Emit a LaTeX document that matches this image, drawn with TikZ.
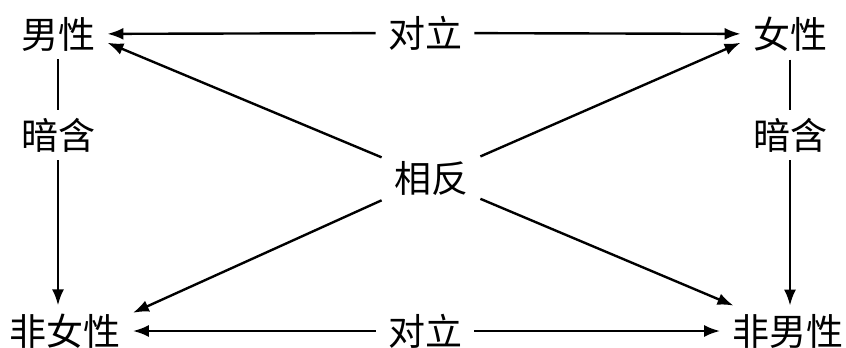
\documentclass[tikz,border=0pt]{standalone}
\usepackage{fontspec}
\newfontfamily\cjk{Noto Sans CJK SC}
\usepackage{tikz}
\usetikzlibrary{arrows.meta}
\tikzset{
  lbl/.style={inner xsep=6pt, inner ysep=4pt,
              font=\cjk\fontsize{18.5}{20}\selectfont},
  arr/.style={-{Latex[length=8pt,width=6pt]}, line width=1.2pt},
  lnk/.style={line width=1.2pt},
}

\begin{document}
\begin{tikzpicture}[x=0.5pt, y=-0.5pt]
  \useasboundingbox (0,0) rectangle (846,348);
  % corners
  \node[lbl] (nan)  at (58,34)   {男性};
  \node[lbl] (nv)   at (790,34)  {女性};
  \node[lbl] (fnv)  at (65,331)  {非女性};
  \node[lbl] (fnan) at (788,331) {非男性};
  % relations
  \node[lbl] (dlt)  at (425,33)  {对立};
  \node[lbl] (dlb)  at (425,331) {对立};
  \node[lbl] (anl)  at (58,135)  {暗含};
  \node[lbl] (anr)  at (790,135) {暗含};
  \node[lbl] (xf)   at (431,178) {相反};
  % connectors
  \draw[arr] (dlt) -- (nan);
  \draw[arr] (dlt) -- (nv);
  \draw[arr] (dlb) -- (fnv);
  \draw[arr] (dlb) -- (fnan);
  \draw[lnk] (nan) -- (anl);
  \draw[arr] (anl) -- (anl |- fnv.north);
  \draw[lnk] (nv) -- (anr);
  \draw[arr] (anr) -- (anr |- fnan.north);
  \draw[arr] (xf) -- (nan.-10);
  \draw[arr] (xf) -- (nv.190);
  \draw[arr] (xf) -- (fnv.15);
  \draw[arr] (xf) -- (fnan.155);
\end{tikzpicture}
\end{document}
